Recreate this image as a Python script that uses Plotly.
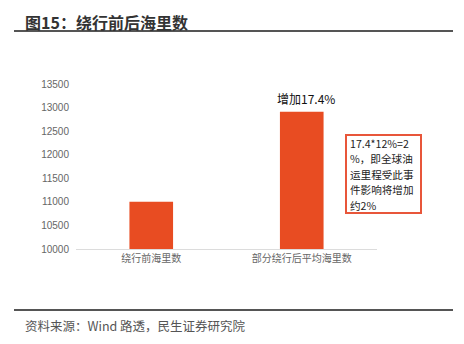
import plotly.graph_objects as go

# Data
categories = ["绕行前海里数", "部分绕行后平均海里数"]
miles = [11000, 12914]
increase_label = "增加17.4%"
y_ticks = [10000, 10500, 11000, 11500, 12000, 12500, 13000, 13500]
y_tick_text = [str(v) for v in y_ticks]
note_lines = ["17.4*12%=2", "%，即全球油", "运里程受此事", "件影响将增加", "约2%"]

W, H = 464, 344
L, R, T, B = 76, 377, 84, 249  # plot area in pixels

def px(xp):
    return (xp - L) / (R - L)

def py(yp):
    return (B - yp) / (B - T)

BAR = "#E84C22"
FONT = "Liberation Sans, Noto Sans CJK SC, sans-serif"
CJK = "Noto Sans CJK SC, sans-serif"

fig = go.Figure(
    go.Bar(x=categories, y=miles, marker=dict(color=BAR, line=dict(width=0)), width=0.29)
)

fig.update_layout(
    width=W, height=H,
    margin=dict(l=L, r=W - R, t=T, b=H - B),
    paper_bgcolor="white", plot_bgcolor="white",
    showlegend=False,
    font=dict(family=FONT, color="#555"),
    xaxis=dict(
        showgrid=False, showline=True, linecolor="#dcdcdc", linewidth=1,
        ticks="", tickfont=dict(size=10, color="#666", family=CJK),
        range=[-0.5, 1.5],
    ),
    yaxis=dict(
        range=[10000, 13500], tickvals=y_ticks, ticktext=y_tick_text,
        showgrid=False, showline=False,
        zeroline=False, ticks="", tickfont=dict(size=10, color="#666"),
        ticklabelstandoff=6,
    ),
)

# Title and rules
fig.add_annotation(
    x=px(23), y=py(22), xref="paper", yref="paper", xanchor="left", yanchor="middle",
    text="<b>图15：绕行前后海里数</b>", showarrow=False,
    font=dict(size=16, color="#333", family=CJK),
)
for yy in (31, 310):
    fig.add_shape(
        type="line", xref="paper", yref="paper",
        x0=px(14), x1=px(453), y0=py(yy), y1=py(yy),
        line=dict(color="#555", width=2),
    )

# Source note
fig.add_annotation(
    x=px(23), y=py(325), xref="paper", yref="paper", xanchor="left", yanchor="middle",
    text="资料来源：Wind 路透，民生证券研究院", showarrow=False,
    font=dict(size=12.5, color="#555", family=CJK),
)

# Increase label above the second bar
fig.add_annotation(
    x=categories[1], y=miles[1], xref="x", yref="y", yanchor="bottom",
    text=increase_label, showarrow=False, yshift=3, xshift=4,
    font=dict(size=12, color="#111", family=CJK),
)

# Boxed comment: frame plus one text row per line
fig.add_shape(
    type="rect", xref="paper", yref="paper",
    x0=px(346), x1=px(421), y0=py(135), y1=py(213),
    line=dict(color="#E8563A", width=2), fillcolor="white", layer="above",
)
for i, line in enumerate(note_lines):
    fig.add_annotation(
        x=px(350), y=py(143 + 15.5 * i), xref="paper", yref="paper",
        xanchor="left", yanchor="middle", text=line, showarrow=False,
        borderpad=0, borderwidth=0,
        font=dict(size=10.6, color="#222", family=CJK),
    )

fig.write_html("out.html", config={"displayModeBar": False})
